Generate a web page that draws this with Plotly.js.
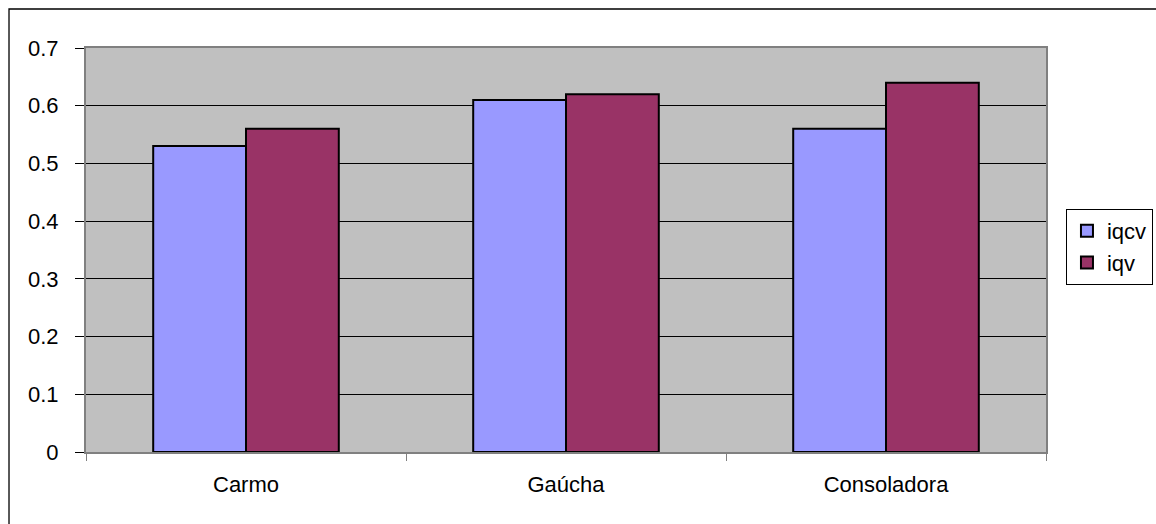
<!DOCTYPE html>
<html>
<head>
<meta charset="utf-8">
<script src="https://cdn.plot.ly/plotly-3.0.1.min.js"></script>
<style>
  html, body { margin: 0; padding: 0; background: #ffffff; }
  #chart { width: 1156px; height: 524px; }
</style>
</head>
<body>
<div id="chart"></div>
<script>
const categories = ["Carmo", "Gaúcha", "Consoladora"];
const iqcv = [0.53, 0.61, 0.56];
const iqv = [0.56, 0.62, 0.64];
const yTicks = [0, 0.1, 0.2, 0.3, 0.4, 0.5, 0.6, 0.7];
const yTickText = ["0", "0.1", "0.2", "0.3", "0.4", "0.5", "0.6", "0.7"];

const font = { family: "Liberation Sans, Arial, sans-serif", size: 22, color: "#000000" };

const traces = [
  {
    type: "bar", name: "iqcv", x: categories, y: iqcv,
    marker: { color: "#9999FF", line: { color: "#000000", width: 2 } },
    hoverinfo: "skip"
  },
  {
    type: "bar", name: "iqv", x: categories, y: iqv,
    marker: { color: "#993366", line: { color: "#000000", width: 2 } },
    hoverinfo: "skip"
  }
];

const layout = {
  width: 1156, height: 524,
  margin: { l: 86, r: 110, t: 48, b: 72, pad: 0, autoexpand: false },
  paper_bgcolor: "#ffffff",
  plot_bgcolor: "#C0C0C0",
  font: font,
  barmode: "group",
  bargap: 0.42,
  bargroupgap: 0,
  showlegend: true,
  legend: {
    x: 1.0208, xanchor: "left", y: 0.6015, yanchor: "top",
    bgcolor: "#ffffff", bordercolor: "#000000", borderwidth: 1,
    font: font, tracegroupgap: 0
  },
  xaxis: {
    type: "category",
    showgrid: false,
    showline: true, linecolor: "#808080", linewidth: 2, mirror: true,
    ticks: "outside", tickson: "boundaries", ticklen: 7, tickwidth: 1, tickcolor: "#808080",
    ticklabelstandoff: 12,
    tickfont: font
  },
  yaxis: {
    range: [0, 0.7], autorange: false,
    tickmode: "array", tickvals: yTicks, ticktext: yTickText,
    showgrid: true, gridcolor: "#000000", gridwidth: 1,
    zeroline: false,
    showline: true, linecolor: "#808080", linewidth: 2, mirror: true,
    ticks: "outside", ticklen: 9, tickwidth: 1, tickcolor: "#000000",
    ticklabelstandoff: 12,
    tickfont: font
  },
  shapes: [
    {
      type: "path", xref: "paper", yref: "paper",
      path: "M -0.0802,-0.2 L -0.0802,1.0965 L 1.2,1.0965",
      line: { color: "#000000", width: 1.3 }
    }
  ]
};

Plotly.newPlot("chart", traces, layout, { staticPlot: true, displayModeBar: false });
</script>
</body>
</html>
